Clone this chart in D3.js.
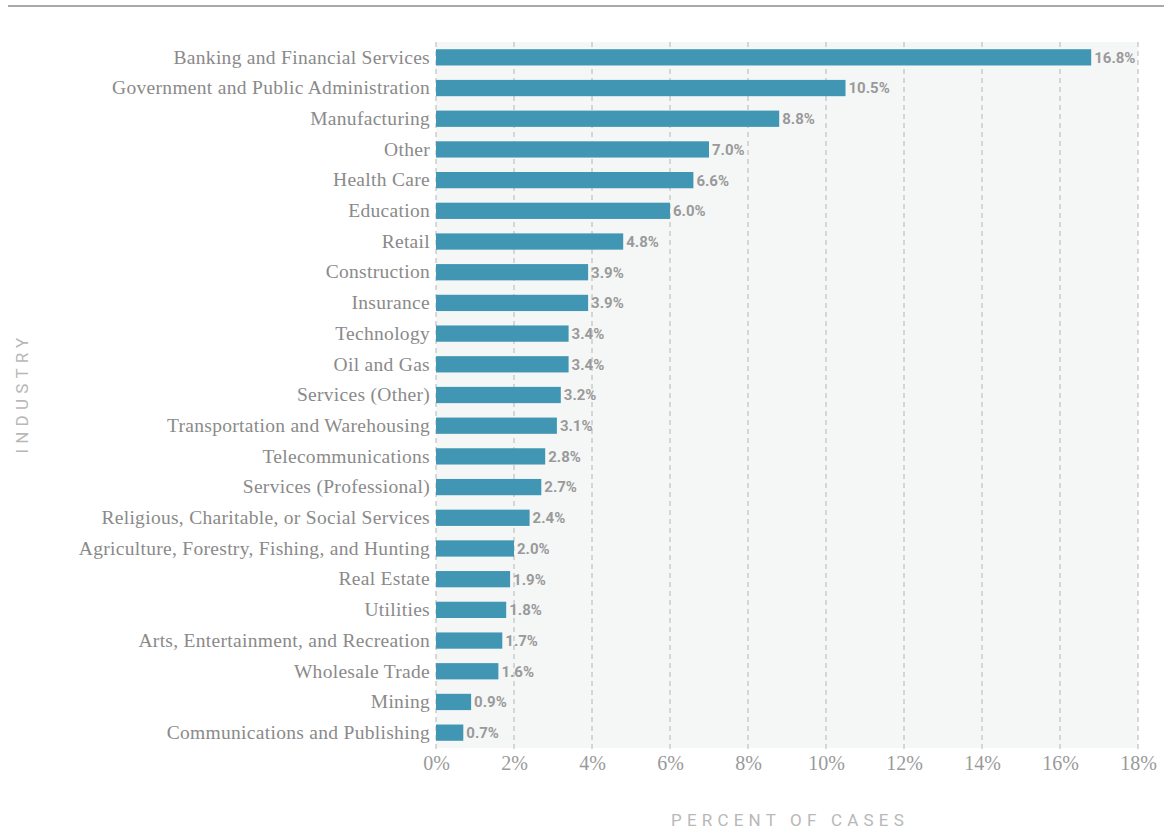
<!DOCTYPE html>
<html>
<head>
<meta charset="utf-8">
<script src="https://cdn.jsdelivr.net/npm/d3@7"></script>
<style>
  body { margin: 0; background: #fff; }
  #chart { width: 1164px; height: 831px; }
</style>
</head>
<body>
<div id="chart"></div>
<script>
// Industry categories, top to bottom
const industries = [
  'Banking and Financial Services',
  'Government and Public Administration',
  'Manufacturing',
  'Other',
  'Health Care',
  'Education',
  'Retail',
  'Construction',
  'Insurance',
  'Technology',
  'Oil and Gas',
  'Services (Other)',
  'Transportation and Warehousing',
  'Telecommunications',
  'Services (Professional)',
  'Religious, Charitable, or Social Services',
  'Agriculture, Forestry, Fishing, and Hunting',
  'Real Estate',
  'Utilities',
  'Arts, Entertainment, and Recreation',
  'Wholesale Trade',
  'Mining',
  'Communications and Publishing'
];

// Percent of cases
const percents = [16.8, 10.5, 8.8, 7.0, 6.6, 6.0, 4.8, 3.9, 3.9, 3.4, 3.4, 3.2, 3.1, 2.8, 2.7, 2.4, 2.0, 1.9, 1.8, 1.7, 1.6, 0.9, 0.7];

const xTicks = [0, 2, 4, 6, 8, 10, 12, 14, 16, 18];

const data = industries.map((name, i) => ({ name, value: percents[i] }));

const width = 1164, height = 831;
const margin = { top: 42, right: 26, bottom: 83, left: 436 };
const innerW = width - margin.left - margin.right;
const innerH = height - margin.top - margin.bottom;

const svg = d3.select('#chart')
  .append('svg')
  .attr('width', width)
  .attr('height', height);

// Top rule
svg.append('line')
  .attr('x1', 8).attr('x2', width)
  .attr('y1', 6).attr('y2', 6)
  .attr('stroke', '#8c8c8c')
  .attr('stroke-width', 1.5);

const g = svg.append('g')
  .attr('transform', `translate(${margin.left},${margin.top})`);

const x = d3.scaleLinear().domain([0, 18]).range([0, innerW]);
const y = d3.scaleBand().domain(industries).range([0, innerH]).paddingInner(0.47).paddingOuter(0.235);

// Plot background
g.append('rect')
  .attr('x', 0).attr('y', 0)
  .attr('width', x(18)).attr('height', innerH)
  .attr('fill', '#f5f7f7');

// Dashed grid lines
g.append('g')
  .selectAll('line')
  .data(xTicks)
  .join('line')
  .attr('x1', d => x(d)).attr('x2', d => x(d))
  .attr('y1', 0).attr('y2', innerH + 5)
  .attr('stroke', '#b4b4b4')
  .attr('stroke-width', 1)
  .attr('stroke-dasharray', '5,4');

// Bars
g.append('g')
  .selectAll('rect')
  .data(data)
  .join('rect')
  .attr('x', 0)
  .attr('y', d => y(d.name))
  .attr('width', d => x(d.value))
  .attr('height', y.bandwidth())
  .attr('fill', '#4196b4');

// Value labels
g.append('g')
  .selectAll('text')
  .data(data)
  .join('text')
  .attr('x', d => x(d.value) + 3)
  .attr('y', d => y(d.name) + y.bandwidth() / 2)
  .attr('dy', '0.36em')
  .attr('fill', '#9a9a9a')
  .attr('font-family', 'Roboto, sans-serif')
  .attr('font-weight', '700')
  .attr('font-size', '15px')
  .text(d => d.value.toFixed(1) + '%');

// Y axis labels
const yAxis = d3.axisLeft(y).tickSize(0).tickPadding(6);
g.append('g')
  .call(yAxis)
  .call(s => s.select('.domain').remove())
  .selectAll('text')
  .attr('fill', '#8a8a8a')
  .attr('font-family', '"Liberation Serif", serif')
  .attr('font-size', '19.5px')
  .attr('letter-spacing', '0.3px');

// X axis labels
const xAxis = d3.axisBottom(x).tickValues(xTicks).tickSize(0).tickPadding(8)
  .tickFormat(d => d + '%');
g.append('g')
  .attr('transform', `translate(0,${innerH})`)
  .call(xAxis)
  .call(s => s.select('.domain').remove())
  .selectAll('text')
  .attr('fill', '#9a9a9a')
  .attr('font-family', '"Liberation Serif", serif')
  .attr('font-size', '20px');

// Axis titles
svg.append('text')
  .attr('x', margin.left + innerW / 2 + 3)
  .attr('y', 826)
  .attr('text-anchor', 'middle')
  .attr('fill', '#b8b8b8')
  .attr('font-family', 'Roboto, sans-serif')
  .attr('font-size', '17px')
  .attr('letter-spacing', '5.2px')
  .text('PERCENT OF CASES');

svg.append('text')
  .attr('transform', `translate(28,${margin.top + innerH / 2 - 2}) rotate(-90)`)
  .attr('text-anchor', 'middle')
  .attr('fill', '#b8b8b8')
  .attr('font-family', 'Roboto, sans-serif')
  .attr('font-size', '17px')
  .attr('letter-spacing', '5.2px')
  .text('INDUSTRY');
</script>
</body>
</html>
